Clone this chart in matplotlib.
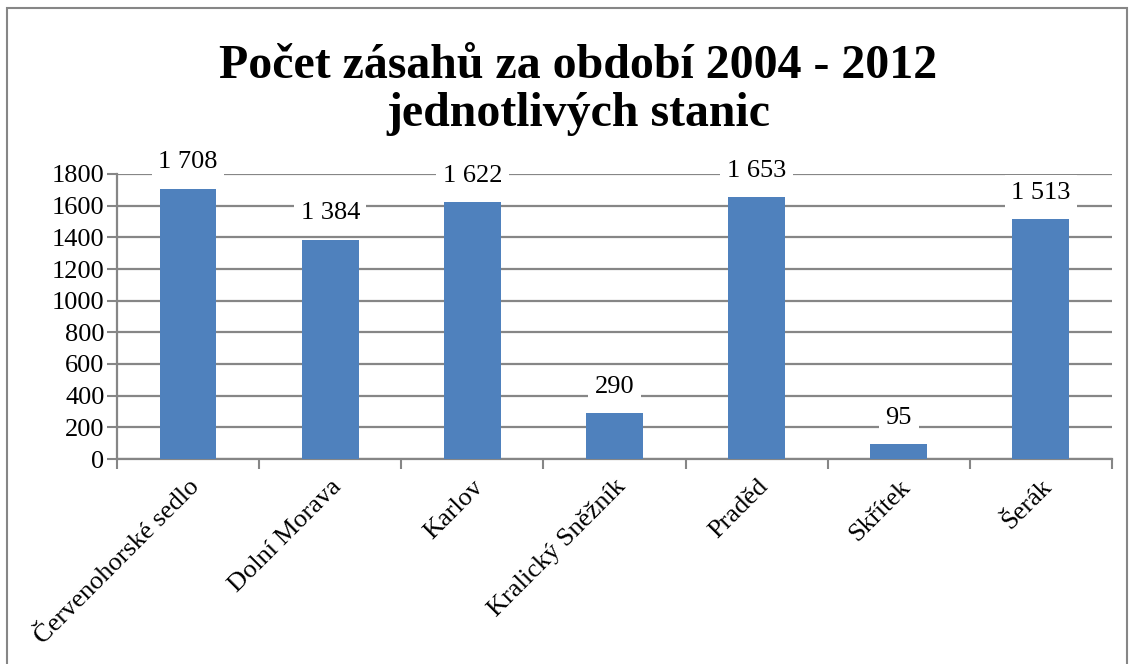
import numpy as np
from matplotlib import pyplot as plt
from matplotlib.patches import Rectangle

stations = ["Červenohorské sedlo", "Dolní Morava", "Karlov", "Kralický Sněžník",
            "Praděd", "Skřítek", "Šerák"]
counts = [1708, 1384, 1622, 290, 1653, 95, 1513]
yticks = [0, 200, 400, 600, 800, 1000, 1200, 1400, 1600, 1800]

plt.rcParams["font.family"] = ["Liberation Serif", "DejaVu Serif"]
grey = "#868686"

fig = plt.figure(figsize=(11.29, 6.64), dpi=100)
ax = fig.add_axes([117 / 1129, 1 - 459 / 664, (1112 - 117) / 1129, (459 - 174) / 664])

x = np.arange(len(stations))
ax.bar(x, counts, width=0.4, color="#4F81BD", zorder=3)

for xi, c in zip(x, counts):
    label = f"{c:,}".replace(",", " ")
    ax.annotate(label, (xi, c), xytext=(0, 19), textcoords="offset points",
                ha="center", va="center", fontsize=19, zorder=5,
                bbox=dict(boxstyle="square,pad=0.25", fc="white", ec="none"))

ax.set_xlim(-0.5, len(stations) - 0.5)
ax.set_ylim(0, 1800)
ax.set_yticks(yticks)
ax.set_yticklabels([str(t) for t in yticks], fontsize=19)
ax.yaxis.grid(True, color=grey, linewidth=1.6, zorder=0)
ax.set_axisbelow(True)

ax.set_xticks(np.arange(len(stations) + 1) - 0.5)
ax.set_xticklabels([])
ax.set_xticks(x, minor=True)
ax.set_xticklabels(stations, minor=True, rotation=45, ha="right", va="top",
                   rotation_mode="anchor", fontsize=19)
ax.tick_params(axis="x", which="minor", length=0, pad=12)
ax.tick_params(axis="x", which="major", length=7, color=grey, width=1.5, direction="out")
ax.tick_params(axis="y", length=7, color=grey, width=1.5, direction="out", pad=2)

for side in ["top", "right"]:
    ax.spines[side].set_visible(False)
for side in ["left", "bottom"]:
    ax.spines[side].set_color(grey)
    ax.spines[side].set_linewidth(1.6)

fig.text(0.512, 1 - 90 / 664, "Počet zásahů za období 2004 - 2012\njednotlivých stanic",
         ha="center", va="center", fontsize=34.5, fontweight="bold", linespacing=1.12)

fig.patches.append(Rectangle((7 / 1129, -0.01), 1120 / 1129, 1 - 8 / 664 + 0.01,
                             transform=fig.transFigure, fill=False, ec=grey, lw=1.5))

fig.savefig("out.png", dpi=100)
